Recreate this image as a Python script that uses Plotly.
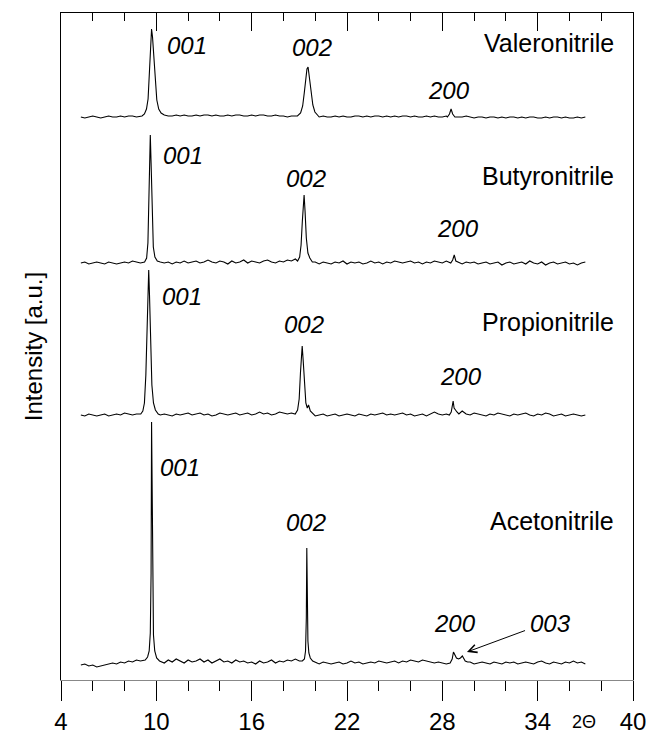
import plotly.graph_objects as go

# ---------------- data ----------------
SERIES = ["Valeronitrile", "Butyronitrile", "Propionitrile", "Acetonitrile"]
OFFSETS = [563, 417, 265, 17]          # vertical stacking offset of each pattern (a.u.)

GRID_START = 5.25                       # 2-theta sampling of the baseline
GRID_STEP = 0.25

VALERO_BASE = [0,-1,0,1,0,-1,0,1,0,0,
               1,0,1,1,0,1,0,0,0,0,
               1,2,1,1,2,1,2,1,1,2,
               1,2,2,1,2,1,1,2,1,2,
               2,1,1,2,1,2,2,1,1,2,
               1,1,0,1,1,0,1,0,1,1,
               0,1,0,0,1,0,1,0,0,1,
               1,0,1,0,1,1,0,1,0,1,
               0,1,1,0,1,0,0,1,0,1,
               0,0,1,0,-1,0,0,1,0,-1,
               0,0,-1,0,0,-1,0,-1,0,0,
               -1,0,-1,0,0,-1,-1,0,-1,0,
               0,-1,0,-1,-1,0,-1,0]
BUTYRO_BASE = [0,1,-1,0,1,0,-1,1,0,-1,
               0,1,0,2,1,0,1,2,3,5,
               1,0,1,-1,1,0,2,0,1,2,
               0,1,3,1,0,2,1,-1,2,0,
               1,3,0,2,1,0,2,3,1,0,
               2,1,3,2,4,3,1,2,0,1,
               -1,1,0,-1,1,0,2,-1,1,0,
               1,-1,0,2,0,1,-1,1,0,2,
               1,0,1,2,0,1,-1,1,0,2,
               1,0,2,3,1,0,-1,1,0,1,
               -1,0,1,-1,0,1,-2,0,1,-1,
               0,1,-1,2,0,-1,1,-2,0,1,
               -1,0,1,-1,0,-2,0,1]
PROPIO_BASE = [0,-1,1,0,-1,0,1,-1,0,1,
               0,2,1,0,1,2,1,3,2,4,
               0,1,0,-1,1,0,1,2,0,1,
               2,0,1,-1,0,2,1,0,1,2,
               0,1,2,0,1,3,1,2,0,1,
               3,2,1,2,3,1,2,0,1,-1,
               0,1,-1,0,1,-1,0,1,0,-1,
               1,0,-1,1,0,1,2,0,1,0,
               1,2,0,1,-1,0,1,-1,1,3,
               1,0,1,-1,0,1,4,1,0,2,
               1,0,-1,1,0,2,1,0,-1,1,
               0,1,2,0,-1,1,0,2,1,-1,
               0,1,-1,0,1,0,-1,0]
ACETO_BASE = [-2,-1,-3,-2,-4,-3,-2,-1,0,-1,
              1,0,2,1,3,2,4,3,5,8,
              2,0,3,1,4,2,0,3,1,2,
              4,1,3,0,2,4,1,2,0,3,
              1,2,0,1,-1,2,0,1,3,0,
              2,1,3,2,4,2,1,3,0,1,
              -1,1,0,-1,0,1,-1,0,2,0,
              1,-1,0,1,0,2,1,0,1,2,
              0,2,1,3,2,1,3,2,1,0,
              1,0,-1,1,0,2,1,0,1,-1,
              0,1,0,-1,1,0,-1,1,0,1,
              -1,0,1,0,-1,1,2,0,-1,1,
              0,-1,1,0,2,0,1,-1]

# peak profiles: (2-theta list, intensity list) per reflection
VALERO_PEAKS = [
    ([9.1, 9.25, 9.38, 9.48, 9.56, 9.64, 9.7, 9.76, 9.84, 9.93, 10.03, 10.15, 10.3, 10.5],
     [1, 3, 8, 18, 40, 72, 88, 80, 58, 33, 17, 8, 4, 2]),
    ([18.88, 19.08, 19.21, 19.31, 19.4, 19.48, 19.55, 19.63, 19.73, 19.85, 19.98, 20.18],
     [1, 4, 11, 24, 40, 48, 50, 40, 24, 12, 5, 2]),
    ([28.32, 28.45, 28.55, 28.65, 28.79], [0, 3, 8, 3, 0]),
]
BUTYRO_PEAKS = [
    ([9.26, 9.39, 9.47, 9.53, 9.58, 9.62, 9.67, 9.73, 9.81, 9.91, 10.06],
     [1, 5, 20, 60, 108, 128, 100, 48, 16, 6, 2]),
    ([18.89, 19.02, 19.11, 19.19, 19.25, 19.3, 19.36, 19.44, 19.54, 19.66, 19.82],
     [2, 6, 18, 42, 62, 68, 52, 25, 10, 5, 1]),
    ([28.53, 28.65, 28.75, 28.85, 28.98], [0, 3, 8, 2, 1]),
]
PROPIO_PEAKS = [
    ([9.02, 9.15, 9.25, 9.34, 9.41, 9.47, 9.52, 9.57, 9.64, 9.72, 9.82, 9.94, 10.12],
     [1, 4, 12, 40, 95, 138, 145, 120, 70, 30, 12, 5, 1]),
    ([18.74, 18.89, 18.99, 19.07, 19.13, 19.18, 19.24, 19.32, 19.41, 19.5, 19.58, 19.69, 19.84],
     [1, 5, 16, 42, 63, 69, 55, 28, 12, 7, 10, 4, 1]),
    ([28.44, 28.56, 28.64, 28.68, 28.74, 28.82, 28.92, 29.04], [0, 3, 12, 14, 7, 5, 3, 1]),
]
ACETO_PEAKS = [
    ([9.3, 9.45, 9.55, 9.62, 9.67, 9.7, 9.73, 9.76, 9.82, 9.9, 10.02, 10.2],
     [3, 6, 12, 30, 90, 241, 160, 70, 28, 12, 5, 2]),
    ([19.19, 19.32, 19.39, 19.44, 19.47, 19.5, 19.54, 19.6, 19.69, 19.84],
     [2, 4, 12, 45, 115, 60, 22, 10, 5, 2]),
    ([28.49, 28.62, 28.7, 28.78, 28.89, 29.02, 29.14, 29.26, 29.34, 29.44, 29.59],
     [0, 4, 11, 8, 5, 4, 5, 7, 4, 2, 1]),
]

BASES = [VALERO_BASE, BUTYRO_BASE, PROPIO_BASE, ACETO_BASE]
PEAKS = [VALERO_PEAKS, BUTYRO_PEAKS, PROPIO_PEAKS, ACETO_PEAKS]

X_TICKS = [4, 10, 16, 22, 28, 34, 40]

# ---------------- build ----------------
FONT = "Liberation Sans, Arial, sans-serif"
fig = go.Figure()

for name, off, base, peaks in zip(SERIES, OFFSETS, BASES, PEAKS):
    pts = []
    spans = [(min(px), max(px)) for px, _ in peaks]
    for i, v in enumerate(base):
        x = GRID_START + GRID_STEP * i
        if any(a - 0.05 <= x <= b + 0.05 for a, b in spans):
            continue
        pts.append((x, v))
    for px, py in peaks:
        pts.extend(zip(px, py))
    pts.sort()
    fig.add_trace(go.Scatter(
        x=[p[0] for p in pts], y=[p[1] + off for p in pts],
        mode="lines", line=dict(color="black", width=1.1), name=name,
        showlegend=False, hoverinfo="skip"))

# dummy trace to register the top axis
fig.add_trace(go.Scatter(x=[], y=[], xaxis="x2", showlegend=False))

ann = []
def lab(x, y, t, size=24, anchor="center", italic=True):
    ann.append(dict(x=x, y=y, xref="x", yref="y", text=f"<i>{t}</i>" if italic else t,
                    showarrow=False, xanchor=anchor, yanchor="middle",
                    font=dict(family=FONT, size=size, color="black")))

HKL_POS = [
    [("001", 11.9, 635), ("002", 19.8, 633), ("200", 28.4, 590)],
    [("001", 11.7, 525), ("002", 19.4, 502), ("200", 29.0, 452)],
    [("001", 11.6, 384), ("002", 19.3, 356), ("200", 29.2, 304)],
    [("001", 11.5, 213), ("002", 19.4, 158), ("200", 28.8, 57), ("003", 34.8, 57)],
]
NAME_Y = [637, 504, 358, 159]
for name, labs, ny in zip(SERIES, HKL_POS, NAME_Y):
    for t, x, y in labs:
        lab(x, y, t)
    lab(38.9, ny, name, size=25, anchor="right", italic=False)

# arrow to 003
ann.append(dict(x=29.55, y=28, ax=33.3, ay=50, xref="x", yref="y", axref="x", ayref="y",
                showarrow=True, arrowhead=5, arrowsize=1.6, arrowwidth=1, arrowcolor="black",
                text=""))
# 2-theta label
ann.append(dict(x=36.9, y=-0.063, xref="x", yref="paper", yanchor="middle", text="2Θ",
                showarrow=False, font=dict(family=FONT, size=18, color="black")))

fig.update_layout(
    template="none",
    width=646, height=735,
    margin=dict(l=61, r=13, t=13, b=55, autoexpand=False),
    paper_bgcolor="white", plot_bgcolor="white",
    annotations=ann,
    xaxis=dict(range=[4, 40], tickmode="array", tickvals=X_TICKS,
               ticktext=[str(t) for t in X_TICKS], automargin=False,
               ticklabeloverflow="allow",
               ticks="outside", ticklen=20, tickwidth=1, tickcolor="black",
               minor=dict(tickmode="linear", tick0=4, dtick=2, ticks="outside", ticklen=10,
                          tickwidth=1, tickcolor="black", showgrid=False),
               showline=True, linecolor="#888", linewidth=1,
               showgrid=False, zeroline=False,
               tickfont=dict(family=FONT, size=24, color="black")),
    xaxis2=dict(range=[4, 40], overlaying="x", side="top", anchor="y", automargin=False,
                tickmode="linear", tick0=4, dtick=6,
                ticks="inside", ticklen=18, tickwidth=1, tickcolor="black",
                minor=dict(tickmode="linear", tick0=4, dtick=2, ticks="inside", ticklen=8,
                           tickwidth=1, tickcolor="black", showgrid=False),
                showticklabels=False, showline=True, linecolor="black", linewidth=1,
                showgrid=False, zeroline=False),
    yaxis=dict(range=[0, 667], showline=True, mirror=True, linecolor="black", linewidth=1,
               ticks="", showticklabels=False, showgrid=False, zeroline=False,
               automargin=False,
               title=dict(text="Intensity [a.u.]", standoff=10,
                          font=dict(family=FONT, size=24, color="black"))),
)

fig.write_html("out.html")
